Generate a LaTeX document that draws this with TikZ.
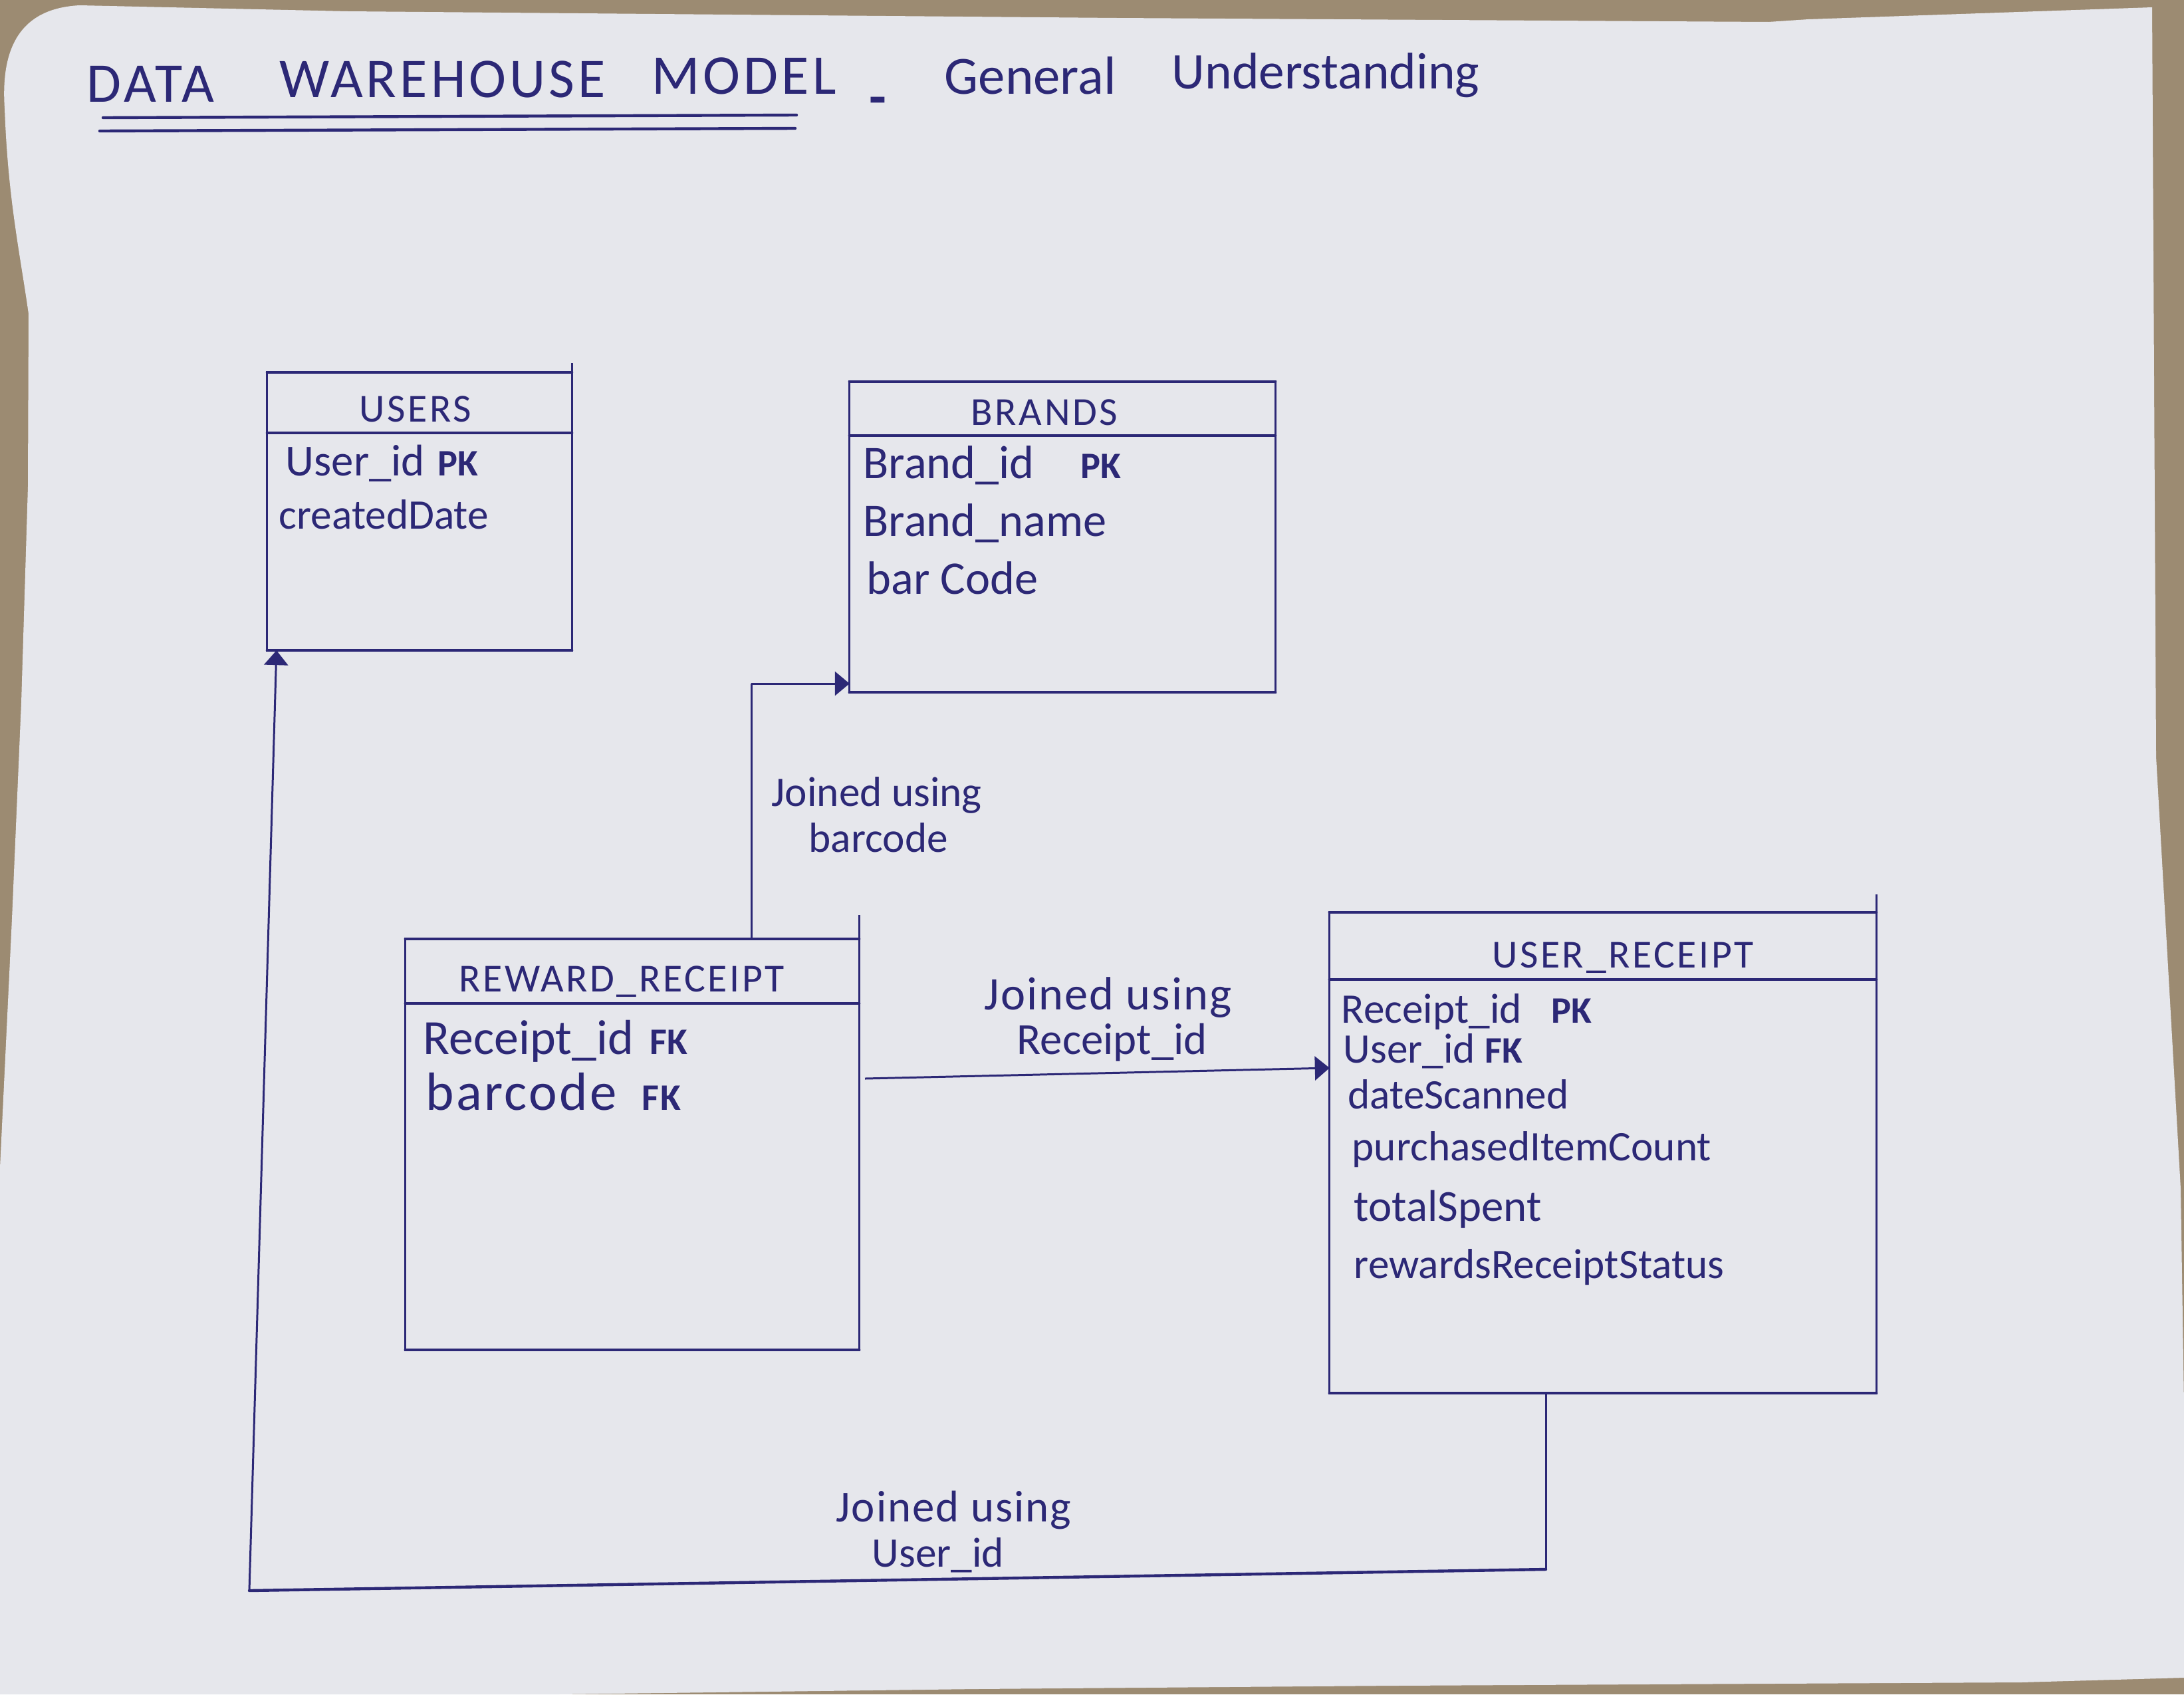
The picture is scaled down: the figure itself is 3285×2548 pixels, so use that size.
\documentclass[tikz,border=0pt]{standalone}
\usepackage{fontspec}
\setmainfont{Carlito}
\usetikzlibrary{arrows.meta}

\definecolor{ink}{RGB}{44,40,118}
\definecolor{paper}{RGB}{230,231,236}
\definecolor{desk}{RGB}{156,139,114}

\newcommand\keytag[1]{\textbf{\fontsize{16}{16}\selectfont #1}}

\tikzset{
  tablebox/.style={draw=ink, line width=0.85pt, inner sep=0pt, outer sep=0pt},
  rule/.style={draw=ink, line width=1.25pt, line cap=round},
  side/.style={draw=ink, line width=0.85pt},
  link/.style={draw=ink, line width=0.85pt, -{Triangle[length=0.22cm,width=0.36cm]}},
  head/.style={text=ink, anchor=base, inner sep=0pt, font=\fontsize{17}{17}\selectfont\addfontfeatures{LetterSpace=6}},
  field/.style={text=ink, anchor=base west, inner sep=0pt, font=\fontsize{18}{18}\selectfont},
  note/.style={text=ink, anchor=base west, inner sep=0pt, font=\fontsize{19}{19}\selectfont},
  titletext/.style={text=ink, anchor=base west, inner sep=0pt, font=\fontsize{24}{24}\selectfont\addfontfeatures{LetterSpace=6}},
  subtitletext/.style={text=ink, anchor=base west, inner sep=0pt, font=\fontsize{23}{23}\selectfont},
}

\begin{document}
\begin{tikzpicture}[x=0.01cm, y=-0.01cm]
\useasboundingbox (0,0) rectangle (3285,2548);

% desk and sheet of paper
\fill[desk] (0,0) rectangle (3285,2548);
\fill[paper] (7,163) .. controls (0,60) and (40,12) .. (120,8)
  -- (523,17) -- (1680,27) -- (2660,33) -- (2720,29) -- (3237,11)
  -- (3243,1138) -- (3280,1788) -- (3285,2113) -- (3285,2523)
  -- (3040,2530) -- (2096,2535) -- (1467,2540) -- (838,2548)
  -- (0,2548) -- (0,1756) -- (18,1382) -- (32,1057) -- (42,732)
  -- (43,472) .. controls (30,380) and (12,300) .. cycle;

% title
\node[titletext] (tdata) at (130,153) {DATA};
\node[titletext] (twh) at (420,146) {WAREHOUSE};
\node[titletext] (tmodel) at (980,141) {MODEL};
\node[text=ink, font=\fontsize{24}{24}\selectfont\bfseries] (tdash) at (1320,160) {-};
\node[subtitletext] (tgen) at (1420,141) {General};
\node[subtitletext, font=\fontsize{22}{22}\selectfont] (tund) at (1762,133) {Understanding};
\draw[rule] (155,177) -- (1198,173);
\draw[rule] (150,197) -- (1196,193);

% tables
\node[tablebox, minimum width=4.58cm, minimum height=4.18cm] (users) at (631,769) {};
\node[tablebox, minimum width=6.40cm, minimum height=4.67cm] (brands) at (1598,807.5) {};
\node[tablebox, minimum width=6.82cm, minimum height=6.18cm] (reward) at (951,1721) {};
\node[tablebox, minimum width=8.22cm, minimum height=7.23cm] (ureceipt) at (2411,1733.5) {};

% header separators
\coordinate (users-h) at (0,651);
\coordinate (brands-h) at (0,655);
\coordinate (reward-h) at (0,1509);
\coordinate (ureceipt-h) at (0,1473);

\foreach \t in {users,brands,reward,ureceipt}{
  \draw[rule] (\t.north west) -- (\t.north east);
  \draw[rule] (\t.south west) -- (\t.south east);
  \draw[rule] (\t.west |- \t-h) -- (\t.east |- \t-h);
}

% pen overshoots at the upper right corners
\draw[side] (users.north east) -- ++(0,-14);
\draw[side] (reward.north east) -- ++(0,-36);
\draw[side] (ureceipt.north east) -- ++(0,-27);

% USERS
\node[head] (users-t) at (625,634) {USERS};
\node[field, font=\fontsize{19}{19}\selectfont] (users-f1) at (429,715) {User\_id\hspace{0.2cm}\keytag{PK}};
\node[field] (users-f2) at (419,795) {createdDate};

% BRANDS
\node[head] (brands-t) at (1571,639) {BRANDS};
\node[field, font=\fontsize{20}{20}\selectfont] (brands-f1) at (1298,719) {Brand\_id\hspace{0.7cm}\keytag{PK}};
\node[field, font=\fontsize{20}{20}\selectfont] (brands-f2) at (1298,806) {Brand\_name};
\node[field, font=\fontsize{20}{20}\selectfont] (brands-f3) at (1303,893) {bar Code};

% REWARD_RECEIPT
\node[head] (reward-t) at (935,1491) {REWARD\_RECEIPT};
\node[field, font=\fontsize{21}{21}\selectfont] (reward-f1) at (636,1585) {Receipt\_id\hspace{0.25cm}\keytag{FK}};
\node[field, font=\fontsize{23}{23}\selectfont\addfontfeatures{LetterSpace=4}] (reward-f2) at (640,1669) {barcode\hspace{0.35cm}\keytag{FK}};

% USER_RECEIPT
\node[head] (ureceipt-t) at (2441,1455) {USER\_RECEIPT};
\node[field] (ureceipt-f1) at (2017,1538) {Receipt\_id\hspace{0.45cm}\keytag{PK}};
\node[field] (ureceipt-f2) at (2020,1598) {User\_id\hspace{0.15cm}\keytag{FK}};
\node[field] (ureceipt-f3) at (2027,1667) {dateScanned};
\node[field] (ureceipt-f4) at (2033,1745) {purchasedItemCount};
\node[field, font=\fontsize{19}{19}\selectfont] (ureceipt-f5) at (2036,1836) {totalSpent};
\node[field] (ureceipt-f6) at (2036,1922) {rewardsReceiptStatus};

% REWARD_RECEIPT -> BRANDS
\coordinate (bc-turn) at (1130,1028);
\draw[side] (reward.north -| bc-turn) -- (bc-turn);
\draw[link] (bc-turn) -- (brands.west |- bc-turn);
\node[note, font=\fontsize{18}{18}\selectfont] (bc-l1) at (1160,1212) {Joined using};
\node[note, font=\fontsize{18}{18}\selectfont] (bc-l2) at (1216,1281) {barcode};

% REWARD_RECEIPT -> USER_RECEIPT
\coordinate (rl-start) at (1301,1622);
\coordinate (rl-end) at (ureceipt.west |- 0,1606);
\draw[link] (rl-start) -- (rl-end);
\node[note, font=\fontsize{20}{20}\selectfont\addfontfeatures{LetterSpace=3}] (rl-l1) at (1480,1518) {Joined using};
\node[note, font=\fontsize{19}{19}\selectfont] (rl-l2) at (1529,1585) {Receipt\_id};

% USER_RECEIPT -> USERS
\coordinate (ul-a) at (2325,2360);
\coordinate (ul-b) at (375,2392);
\coordinate (ul-end) at ([xshift=0.14cm]users.south west);
\draw[side] (ureceipt.south -| ul-a) -- (ul-a);
\draw[rule] (ul-a) -- (ul-b);
\draw[link] (ul-b) -- (ul-end);
\node[note, font=\fontsize{19}{19}\selectfont\addfontfeatures{LetterSpace=3}] (ul-l1) at (1257,2288) {Joined using};
\node[note, font=\fontsize{18}{18}\selectfont] (ul-l2) at (1311,2356) {User\_id};

\end{tikzpicture}
\end{document}
